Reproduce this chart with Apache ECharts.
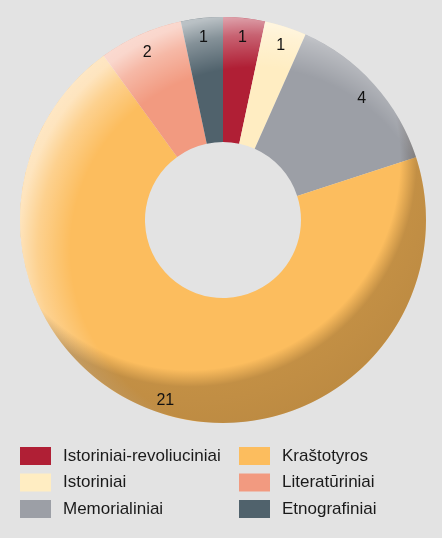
<!DOCTYPE html>
<html>
<head>
<meta charset="utf-8">
<script src="https://cdn.jsdelivr.net/npm/echarts@6/dist/echarts.min.js"></script>
<style>
html,body{margin:0;padding:0;background:#e3e3e3;}
#c{width:442px;height:538px;}
</style>
</head>
<body>
<div id="c"></div>
<script>
var categories = ['Istoriniai-revoliuciniai','Istoriniai','Memorialiniai','Kraštotyros','Literatūriniai','Etnografiniai'];
var values = [1, 1, 4, 21, 2, 1];
var colors = ['#b01f35','#ffedc2','#9c9fa6','#fcbd5e','#f29a80','#50626c'];
var legendLeft = ['Istoriniai-revoliuciniai','Istoriniai','Memorialiniai'];
var legendRight = ['Kraštotyros','Literatūriniai','Etnografiniai'];

var FONT = "'Liberation Sans',Arial,sans-serif";
var CX = 223, CY = 220, R = 203, R0 = 78;

var mainData = categories.map(function(n,i){
  return {name:n, value:values[i], itemStyle:{color:colors[i]}};
});
var labelData = categories.map(function(n,i){
  return {name:n, value:values[i]};
});

var chart = echarts.init(document.getElementById('c'), null, {renderer:'canvas'});
var legendCommon = {
  orient:'vertical', icon:'rect', itemWidth:31, itemHeight:18, itemGap:8.5,
  padding:0, selectedMode:false,
  textStyle:{fontFamily:FONT, fontSize:17, color:'#1a1a1a', lineHeight:18, padding:[0,0,0,7]}
};
chart.setOption({
  backgroundColor:'#e3e3e3',
  animation:false,
  legend:[
    Object.assign({left:20, top:447, data:legendLeft}, legendCommon),
    Object.assign({left:239, top:447, data:legendRight}, legendCommon)
  ],
  series:[
    {
      type:'pie', name:'main', center:[CX,CY], radius:[R0,R],
      startAngle:90, clockwise:true, silent:true,
      label:{show:false}, labelLine:{show:false},
      data:mainData
    },
    {
      type:'pie', name:'hl', center:[CX,CY], radius:[R0,R], silent:true,
      label:{show:false}, labelLine:{show:false}, legendHoverLink:false,
      data:[{value:1, name:'_hl', itemStyle:{color:{
        type:'radial', global:true, x:CX+30, y:CY+30, r:250,
        colorStops:[
          {offset:0, color:'rgba(255,255,255,0)'},
          {offset:0.73, color:'rgba(255,255,255,0)'},
          {offset:0.86, color:'rgba(255,255,255,0.3)'},
          {offset:0.94, color:'rgba(255,255,255,0.6)'},
          {offset:1, color:'rgba(255,255,255,0.65)'}
        ]}}}]
    },
    {
      type:'pie', name:'sh', center:[CX,CY], radius:[R0,R], silent:true,
      label:{show:false}, labelLine:{show:false}, legendHoverLink:false,
      data:[{value:1, name:'_sh', itemStyle:{color:{
        type:'radial', global:true, x:CX-33, y:CY-60, r:280,
        colorStops:[
          {offset:0, color:'rgba(40,20,0,0)'},
          {offset:0.75, color:'rgba(40,20,0,0)'},
          {offset:0.81, color:'rgba(40,20,0,0.27)'},
          {offset:1, color:'rgba(40,20,0,0.3)'}
        ]}}}]
    },
    {
      type:'pie', name:'labels', center:[CX,CY], radius:[164,R],
      startAngle:90, clockwise:true, silent:true,
      itemStyle:{color:'rgba(0,0,0,0)'},
      label:{show:true, position:'inside', formatter:'{c}', offset:[0,3], fontFamily:FONT, fontSize:16, color:'#111'},
      labelLine:{show:false},
      data:labelData
    }
  ]
});
</script>
</body>
</html>
